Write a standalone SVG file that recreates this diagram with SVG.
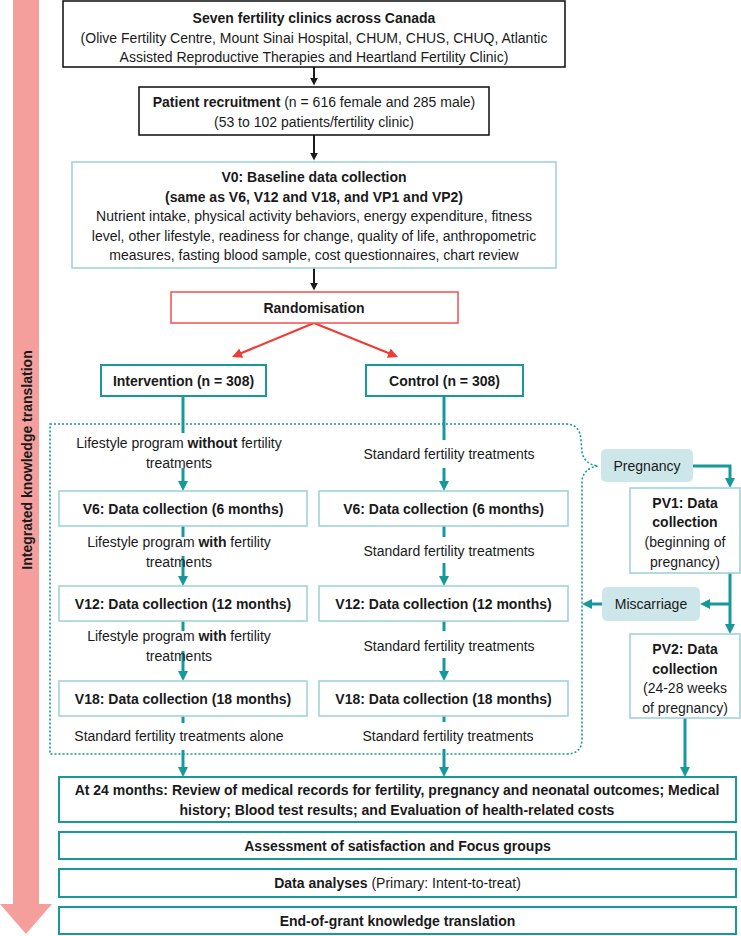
<svg xmlns="http://www.w3.org/2000/svg" width="741" height="936" viewBox="0 0 741 936">
<style>
text{font-family:"Liberation Sans",Arial,sans-serif;font-size:14px;fill:#1a1a1a;text-anchor:middle}
.b{font-weight:bold}
.blk{fill:#fff;stroke:#1a1a1a;stroke-width:1.6}
.lt{fill:#fff;stroke:#9fd4da;stroke-width:1.6}
.dk{fill:#fff;stroke:#17989a;stroke-width:2}
.red{fill:#fff;stroke:#f05a5a;stroke-width:1.6}
.pill{fill:#cde6ea;stroke:none}
.cb{fill:none;stroke:#1a1a1a;stroke-width:2}
.cr{fill:none;stroke:#ee3d36;stroke-width:2.2}
.ct{fill:none;stroke:#17989a;stroke-width:3}
.dot{fill:none;stroke:#17989a;stroke-width:1.6;stroke-dasharray:2 2}
</style>
<defs>
<marker id="mb" viewBox="0 0 10 10" markerWidth="8" markerHeight="9" refX="3" refY="5" orient="auto" markerUnits="userSpaceOnUse"><path d="M0,0 L10,5 L0,10 z" fill="#1a1a1a"/></marker>
<marker id="mr" viewBox="0 0 10 10" markerWidth="10" markerHeight="10" refX="3" refY="5" orient="auto" markerUnits="userSpaceOnUse"><path d="M0,0 L10,5 L0,10 z" fill="#ee3d36"/></marker>
<marker id="mt" viewBox="0 0 10 10" markerWidth="10" markerHeight="10" refX="3" refY="5" orient="auto" markerUnits="userSpaceOnUse"><path d="M0,0 L10,5 L0,10 z" fill="#17989a"/></marker>
</defs>

<g id="ikt">
<polygon points="13,0 39,0 39,904 52,904 26,934 0,904 13,904" fill="#f59f9c"/>
<text class="b" transform="translate(32 460) rotate(-90)">Integrated knowledge translation</text>
</g>

<g id="connectors">
<path class="cb" d="M314 67 V80" marker-end="url(#mb)"/>
<path class="cb" d="M314 135 V155" marker-end="url(#mb)"/>
<path class="cb" d="M314 268 V285" marker-end="url(#mb)"/>
<path class="cr" d="M314 323 L238.5 354.3" marker-end="url(#mr)"/>
<path class="cr" d="M314 323 L391.5 354.3" marker-end="url(#mr)"/>
<path class="ct" d="M183 396 V433"/>
<path class="ct" d="M183 468 V484" marker-end="url(#mt)"/>
<path class="ct" d="M183 526 V537"/>
<path class="ct" d="M183 556 V579" marker-end="url(#mt)"/>
<path class="ct" d="M183 621 V631"/>
<path class="ct" d="M183 651 V674" marker-end="url(#mt)"/>
<path class="ct" d="M183 716 V723"/>
<path class="ct" d="M183 750 V770" marker-end="url(#mt)"/>
<path class="ct" d="M444 396 V440"/>
<path class="ct" d="M444 468 V484" marker-end="url(#mt)"/>
<path class="ct" d="M444 526 V537"/>
<path class="ct" d="M444 563 V579" marker-end="url(#mt)"/>
<path class="ct" d="M444 621 V631"/>
<path class="ct" d="M444 658 V674" marker-end="url(#mt)"/>
<path class="ct" d="M444 716 V722"/>
<path class="ct" d="M444 749 V770" marker-end="url(#mt)"/>
<path class="ct" d="M693 466 H730 V481" marker-end="url(#mt)"/>
<path class="ct" d="M730 573 V627" marker-end="url(#mt)"/>
<path class="ct" d="M730 604 H707" marker-end="url(#mt)"/>
<path class="ct" d="M602 604 H589" marker-end="url(#mt)"/>
<path class="ct" d="M685 718 V770" marker-end="url(#mt)"/>
<path class="dot" d="M50 424 H566 Q580 424 581 440 L582 452 Q584 464 598 466 Q584 468 582 480 L582 739 Q582 754 566 754 H50 Z"/>
</g>

<g id="clinics">
<rect class="blk" x="63" y="1" width="502" height="66"/>
<text x="314" y="23" class="b">Seven fertility clinics across Canada</text>
<text x="314" y="42.5">(Olive Fertility Centre, Mount Sinai Hospital, CHUM, CHUS, CHUQ, Atlantic</text>
<text x="314" y="62">Assisted Reproductive Therapies and Heartland Fertility Clinic)</text>
</g>

<g id="recruitment">
<rect class="blk" x="139" y="87" width="350" height="48"/>
<text x="314" y="106.5"><tspan class="b">Patient recruitment</tspan> (n = 616 female and 285 male)</text>
<text x="314" y="127">(53 to 102 patients/fertility clinic)</text>
</g>

<g id="v0">
<rect class="lt" x="72" y="162" width="484" height="106"/>
<text x="314" y="182" class="b">V0: Baseline data collection</text>
<text x="314" y="202" class="b">(same as V6, V12 and V18, and VP1 and VP2)</text>
<text x="314" y="221">Nutrient intake, physical activity behaviors, energy expenditure, fitness</text>
<text x="314" y="241">level, other lifestyle, readiness for change, quality of life, anthropometric</text>
<text x="314" y="260">measures, fasting blood sample, cost questionnaires, chart review</text>
</g>

<g id="randomisation">
<rect class="red" x="171" y="292" width="287" height="31"/>
<text x="314" y="313" class="b">Randomisation</text>
</g>

<g id="intervention">
<rect class="dk" x="101" y="365" width="165" height="31"/>
<text x="183.5" y="385.5" class="b">Intervention (n = 308)</text>
</g>

<g id="control">
<rect class="dk" x="366" y="365" width="157" height="31"/>
<text x="444.5" y="385.5" class="b">Control (n = 308)</text>
</g>

<g id="labels">
<text x="179" y="448">Lifestyle program <tspan class="b">without</tspan> fertility</text>
<text x="179" y="467.5">treatments</text>
<text x="179" y="547">Lifestyle program <tspan class="b">with</tspan> fertility</text>
<text x="179" y="566.5">treatments</text>
<text x="179" y="641">Lifestyle program <tspan class="b">with</tspan> fertility</text>
<text x="179" y="660.5">treatments</text>
<text x="179" y="741">Standard fertility treatments alone</text>
<text x="449" y="459">Standard fertility treatments</text>
<text x="449" y="556">Standard fertility treatments</text>
<text x="449" y="651">Standard fertility treatments</text>
<text x="448" y="741">Standard fertility treatments</text>
</g>

<g id="v6-int">
<rect class="lt" x="59" y="491" width="248" height="35"/>
<text x="183" y="513.5" class="b">V6: Data collection (6 months)</text>
</g>
<g id="v6-ctl">
<rect class="lt" x="319" y="491" width="249" height="35"/>
<text x="443.5" y="513.5" class="b">V6: Data collection (6 months)</text>
</g>
<g id="v12-int">
<rect class="lt" x="59" y="586" width="248" height="35"/>
<text x="183" y="608.5" class="b">V12: Data collection (12 months)</text>
</g>
<g id="v12-ctl">
<rect class="lt" x="319" y="586" width="249" height="35"/>
<text x="443.5" y="608.5" class="b">V12: Data collection (12 months)</text>
</g>
<g id="v18-int">
<rect class="lt" x="59" y="681" width="248" height="35"/>
<text x="183" y="703.5" class="b">V18: Data collection (18 months)</text>
</g>
<g id="v18-ctl">
<rect class="lt" x="319" y="681" width="249" height="35"/>
<text x="443.5" y="703.5" class="b">V18: Data collection (18 months)</text>
</g>

<g id="pregnancy">
<rect class="pill" x="601" y="449" width="92" height="33" rx="5"/>
<text x="647" y="470.5">Pregnancy</text>
</g>

<g id="pv1">
<rect class="lt" x="630" y="488" width="110" height="85"/>
<text x="685" y="508" class="b">PV1: Data</text>
<text x="685" y="527" class="b">collection</text>
<text x="685" y="547">(beginning of</text>
<text x="685" y="566.5">pregnancy)</text>
</g>

<g id="miscarriage">
<rect class="pill" x="602" y="587" width="98" height="34" rx="5"/>
<text x="651" y="609">Miscarriage</text>
</g>

<g id="pv2">
<rect class="lt" x="630" y="634" width="110" height="84"/>
<text x="685" y="654" class="b">PV2: Data</text>
<text x="685" y="674" class="b">collection</text>
<text x="685" y="693">(24-28 weeks</text>
<text x="685" y="712.5">of pregnancy)</text>
</g>

<g id="at24">
<rect class="dk" x="59" y="777" width="677" height="45"/>
<text x="397" y="795" class="b">At 24 months: Review of medical records for fertility, pregnancy and neonatal outcomes; Medical</text>
<text x="397" y="814.5" class="b">history; Blood test results; and Evaluation of health-related costs</text>
</g>

<g id="assessment">
<rect class="dk" x="59" y="832" width="677" height="27"/>
<text x="397.5" y="850.5" class="b">Assessment of satisfaction and Focus groups</text>
</g>

<g id="analyses">
<rect class="dk" x="59" y="869" width="677" height="28"/>
<text x="397.5" y="888"><tspan class="b">Data analyses</tspan> (Primary: Intent-to-treat)</text>
</g>

<g id="endgrant">
<rect class="dk" x="59" y="907" width="677" height="27"/>
<text x="397.5" y="925.5" class="b">End-of-grant knowledge translation</text>
</g>
</svg>
